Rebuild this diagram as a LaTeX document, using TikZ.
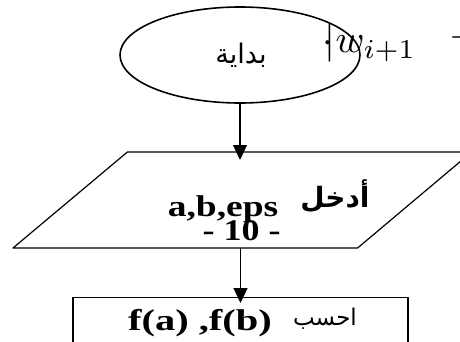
\documentclass[tikz,border=0pt]{standalone}
\usepackage{fontspec}
\usepackage{graphicx}
\setmainfont{Liberation Serif}
\newfontfamily\arabicfont[Script=Arabic]{DejaVu Sans}
\TeXXeTstate=1
\usetikzlibrary{shapes.geometric,arrows.meta}
\newcommand{\stretchx}[2]{\scalebox{#1}[1]{#2}}

\begin{document}
\begin{tikzpicture}[x=1pt,y=-1pt,>={Triangle[length=15pt,width=14pt]}, line join = round, line width=1.2pt, inner sep=0pt]
				\clip (0,0) rectangle (460,342);
				% shapes
				\node[draw, ellipse, line width=1.6pt, minimum width=240pt, minimum height=96pt] (start) at (240,55) {};
				\draw (127.4,152) -- (471.6,152) -- (357.6,248) -- (13,248) -- cycle;
				\coordinate (in top) at (240,152);
				\coordinate (in bottom) at (240,248);
				\node[draw, minimum width=335pt, minimum height=80pt, anchor=north] (fab) at (240.5,297) {};
				% arrows
				\draw[->, shorten >=-8pt] (start.south) -- (start.south |- in top);
				\draw[->, shorten >=-6pt] (in bottom -| fab.north) -- (fab.north);
				% texts
				\node[font=\arabicfont\fontsize{27}{27}\selectfont] (begin) at (241,55) {\beginR بداية\endR};
				\node[anchor=base west] (frag) at (322,53) {\scalebox{3.9}{$\cdot\mkern-4mu|w_{i+1}$}};
				\node[anchor=base west] (dash) at (449,47) {\scalebox{3.6}{$-$}};
				\node[font=\bfseries\fontsize{30}{30}\selectfont, anchor=base] (abe) at (223,216) {\stretchx{1.25}{a,b,eps}};
				\node[font=\arabicfont\bfseries\fontsize{28}{28}\selectfont, anchor=base] (enter) at (335,207) {\beginR أدخل\endR};
				\node[font=\bfseries\fontsize{30}{30}\selectfont, anchor=base] (page) at (241.5,240) {\stretchx{1.2}{- 10 -}};
				\node[font=\bfseries\fontsize{30}{30}\selectfont, anchor=base] (fabtext) at (200,330) {\stretchx{1.35}{f(a) ,f(b)}};
				\node[font=\arabicfont\fontsize{23}{23}\selectfont, anchor=base] (compute) at (325,325) {\beginR احسب\endR};
		\end{tikzpicture}
\end{document}
